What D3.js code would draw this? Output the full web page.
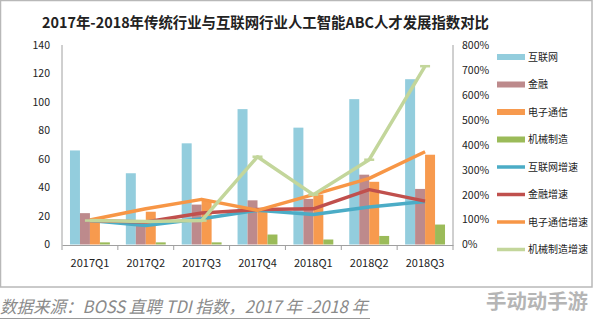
<!DOCTYPE html>
<html><head><meta charset="utf-8">
<script src="https://cdn.jsdelivr.net/npm/d3@7"></script>
<style>body{margin:0;background:#fff}svg{display:block}</style>
</head><body>
<script>
const categories = ["2017Q1","2017Q2","2017Q3","2017Q4","2018Q1","2018Q2","2018Q3"];
const barNames = ["互联网","金融","电子通信","机械制造"];
const internet = [66, 50, 71, 95, 82, 102, 116];
const finance = [22, 17, 28, 31, 32, 49, 39];
const electronics = [18, 23, 31, 25, 35, 44, 63];
const machinery = [1.5, 1.5, 1.5, 7, 3.5, 6, 14];
const lineNames = ["互联网增速","金融增速","电子通信增速","机械制造增速"];
const internetGrowth = [0.96, 0.76, 1.03, 1.37, 1.20, 1.50, 1.72];
const financeGrowth = [0.96, 0.90, 1.26, 1.40, 1.43, 2.20, 1.74];
const electronicsGrowth = [0.98, 1.43, 1.81, 1.37, 2.00, 2.65, 3.72];
const machineryGrowth = [0.96, 0.92, 0.96, 3.52, 2.00, 3.40, 7.15];
const leftTicks = [0,20,40,60,80,100,120,140];
const rightTicks = [0,1,2,3,4,5,6,7,8];

const barSeries = [internet, finance, electronics, machinery];
const lineSeries = [internetGrowth, financeGrowth, electronicsGrowth, machineryGrowth];
const barColors = ["#93cddd","#bd8a8c","#f79a4e","#9bbb59"];
const lineColors = ["#4bacc6","#c0504d","#f79646","#c3d69b"];

const W = 594, H = 321;
const svg = d3.select("body").append("svg").attr("width", W).attr("height", H);
const font = "'Noto Sans CJK SC', 'Noto Sans', sans-serif";

svg.append("rect").attr("x",0.5).attr("y",0.5).attr("width",591.5).attr("height",286.5)
  .attr("fill","#fff").attr("stroke","#b8b8b8").attr("stroke-width",1.5);

svg.append("text").attr("x",42).attr("y",28).attr("font-family",font).attr("font-weight","bold")
  .attr("font-size",15).attr("fill","#222").attr("textLength",447).attr("lengthAdjust","spacingAndGlyphs")
  .text("2017年-2018年传统行业与互联网行业人工智能ABC人才发展指数对比");

const x0 = d3.scaleBand().domain(categories).range([62,453]).paddingInner(0).paddingOuter(0);
const x1 = d3.scaleBand().domain(barNames).range([0,x0.bandwidth()]).paddingInner(0).paddingOuter(0.8);
const yL = d3.scaleLinear().domain([0,140]).range([244.5,45]);
const yR = d3.scaleLinear().domain([0,8]).range([244.5,45]);

// bars
barNames.forEach((n,i)=>{
  svg.append("g").selectAll("rect").data(barSeries[i]).join("rect")
    .attr("x",(d,j)=>x0(categories[j])+x1(n))
    .attr("y",d=>yL(d)).attr("width",x1.bandwidth()).attr("height",d=>yL(0)-yL(d))
    .attr("fill",barColors[i]);
});

// axes
const axisColor = "#a0a0a0";
svg.append("line").attr("x1",62).attr("x2",62).attr("y1",45).attr("y2",245).attr("stroke",axisColor);
svg.append("line").attr("x1",453).attr("x2",453).attr("y1",45).attr("y2",245).attr("stroke",axisColor);
const xAxis = svg.append("g").attr("transform","translate(0,245)")
  .call(d3.axisBottom(x0).tickSize(0).tickPadding(14));
xAxis.select(".domain").attr("stroke",axisColor);
xAxis.selectAll("text").attr("font-family",font).attr("font-size",11).attr("fill","#222");
svg.append("g").selectAll("line").data(d3.range(categories.length+1)).join("line")
  .attr("x1",d=>62+d*x0.step()).attr("x2",d=>62+d*x0.step()).attr("y1",245).attr("y2",250)
  .attr("stroke",axisColor);

const yAxisL = svg.append("g").attr("transform","translate(50,0)")
  .call(d3.axisLeft(yL).tickValues(leftTicks).tickSize(0).tickPadding(0));
yAxisL.select(".domain").remove();
yAxisL.selectAll("text").attr("font-family",font).attr("font-size",10.5).attr("fill","#222");

const yAxisR = svg.append("g").attr("transform","translate(462,0)")
  .call(d3.axisRight(yR).tickValues(rightTicks).tickSize(0).tickPadding(0).tickFormat(d=>(d*100)+"%"));
yAxisR.select(".domain").remove();
yAxisR.selectAll("text").attr("font-family",font).attr("font-size",10.5).attr("fill","#222");

// lines
const cx = c => x0(c) + x0.bandwidth()/2;
lineNames.forEach((n,i)=>{
  const line = d3.line().x((d,j)=>cx(categories[j])).y(d=>yR(d));
  svg.append("path").datum(lineSeries[i]).attr("d",line).attr("fill","none")
    .attr("stroke",lineColors[i]).attr("stroke-width",3.5).attr("stroke-linejoin","round");
});
svg.append("g").selectAll("line").data(machineryGrowth).join("line")
  .attr("x1",(d,j)=>cx(categories[j])-5).attr("x2",(d,j)=>cx(categories[j])+5)
  .attr("y1",d=>yR(d)).attr("y2",d=>yR(d)).attr("stroke",lineColors[3]).attr("stroke-width",2.5);

// legend
const legY0 = 57, legStep = 27.5;
barNames.forEach((n,i)=>{
  const y = legY0 + i*legStep;
  svg.append("rect").attr("x",497).attr("y",y-3).attr("width",28).attr("height",6).attr("fill",barColors[i]);
  svg.append("text").attr("x",528).attr("y",y).attr("dy","0.35em").attr("font-family",font)
    .attr("font-size",10).attr("fill","#222").text(n);
});
lineNames.forEach((n,i)=>{
  const y = legY0 + (i+4)*legStep;
  svg.append("line").attr("x1",497).attr("x2",525).attr("y1",y).attr("y2",y)
    .attr("stroke",lineColors[i]).attr("stroke-width",3.5);
  svg.append("text").attr("x",528).attr("y",y).attr("dy","0.35em").attr("font-family",font)
    .attr("font-size",10).attr("fill","#222").text(n);
});

// footer
svg.append("text").attr("x",0).attr("y",313).attr("font-family",font).attr("font-style","italic")
  .attr("font-size",17).attr("fill","#8a8a8a").attr("textLength",368).attr("lengthAdjust","spacingAndGlyphs")
  .text("数据来源：BOSS 直聘 TDI 指数，2017 年 -2018 年");
svg.append("line").attr("x1",0).attr("x2",370).attr("y1",318.5).attr("y2",318.5).attr("stroke","#9a9a9a").attr("stroke-width",1);
svg.append("text").attr("x",486).attr("y",309).attr("font-family",font).attr("font-weight","bold")
  .attr("font-size",20).attr("fill","#b5b5b5").attr("textLength",102).attr("lengthAdjust","spacingAndGlyphs")
  .text("手动动手游");
</script>
</body></html>
